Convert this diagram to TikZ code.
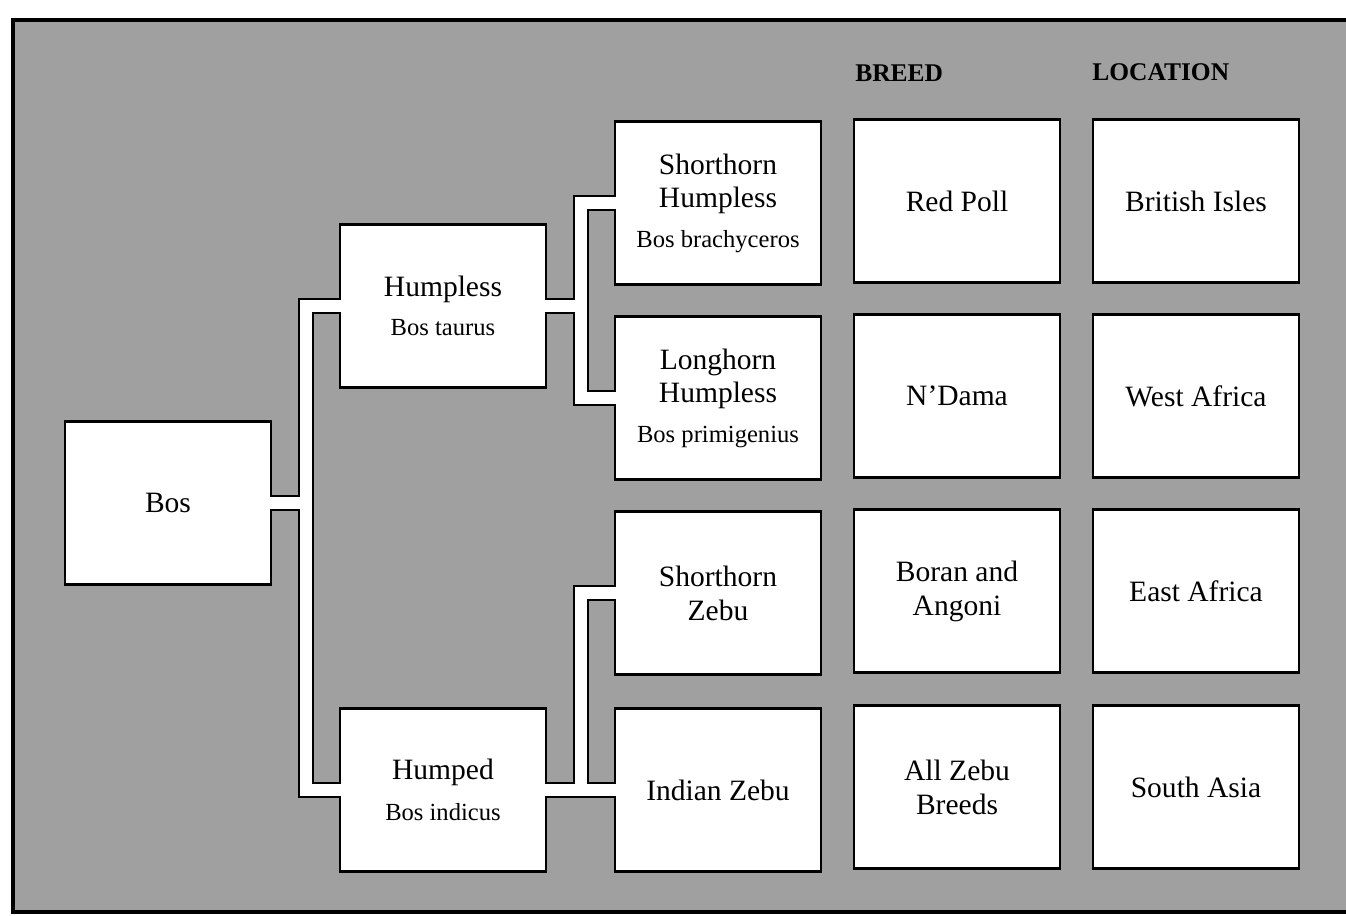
\documentclass[tikz,border=0pt]{standalone}
\usepackage{fontspec}
\setmainfont{Liberation Serif}
\usepackage{xcolor}
\usepackage{tikz}
\definecolor{panel}{HTML}{A0A0A0}
\newcommand{\latin}[1]{{\fontsize{14}{16}\selectfont #1}}

\begin{document}
\begin{tikzpicture}[x=0.02cm,y=-0.02cm,
  box/.style={draw=black,fill=white,line width=0.05cm,minimum width=4.12cm,
    minimum height=3.26cm,inner sep=0pt,align=center,
    font=\fontsize{16.8}{19.3}\selectfont},
  heading/.style={anchor=west,inner sep=0pt,font=\bfseries\fontsize{14.5}{17}\selectfont},
  bandout/.style={draw=black,line width=0.33cm,line join=miter},
  bandin/.style={draw=white,line width=0.25cm,line join=miter,
    shorten <=-0.08cm,shorten >=-0.08cm}]
  \useasboundingbox (0,0) rectangle (1346,916);
  \clip (0,0) rectangle (1346,916);
  \fill[white] (0,0) rectangle (1346,916);
  \filldraw[fill=panel,draw=black,line width=0.07cm] (13,20) rectangle (1370,912);
  \node[heading] (breedhd) at (855,73) {BREED};
  \node[heading] (lochd) at (1092,72) {LOCATION};
  % family tree
  \node[box] (bos) at (168,503) {Bos};
  \node[box] (humpless) at (443,306) {Humpless\\[3pt]\latin{Bos taurus}};
  \node[box] (humped) at (443,790) {Humped\\[4pt]\latin{Bos indicus}};
  \node[box] (shhump) at (718,203) {Shorthorn\\Humpless\\[3pt]\latin{Bos brachyceros}};
  \node[box] (lghump) at (718,398) {Longhorn\\Humpless\\[3pt]\latin{Bos primigenius}};
  \node[box] (shzebu) at (718,593) {Shorthorn\\Zebu};
  \node[box] (inzebu) at (718,790) {Indian Zebu};
  % breed and location columns
  \foreach \i/\y/\b/\l in {1/201/Red Poll/British Isles,2/396/N'Dama/West Africa,
      3/591/{Boran and\\Angoni}/East Africa,4/787/{All Zebu\\Breeds}/South Asia} {
    \node[box] (breed\i) at (957,\y) {\b};
    \node[box] (loc\i) at (1196,\y) {\l};
  }
  % white bands between the boxes
  \foreach \p/\c in {bos/humpless,bos/humped,humpless/shhump,humpless/lghump,humped/shzebu,humped/inzebu}
    \draw[bandout] (\p.east) -- ++(34,0) |- (\c.west);
  \foreach \p/\c in {bos/humpless,bos/humped,humpless/shhump,humpless/lghump,humped/shzebu,humped/inzebu}
    \draw[bandin] (\p.east) -- ++(34,0) |- (\c.west);
\end{tikzpicture}
\end{document}
